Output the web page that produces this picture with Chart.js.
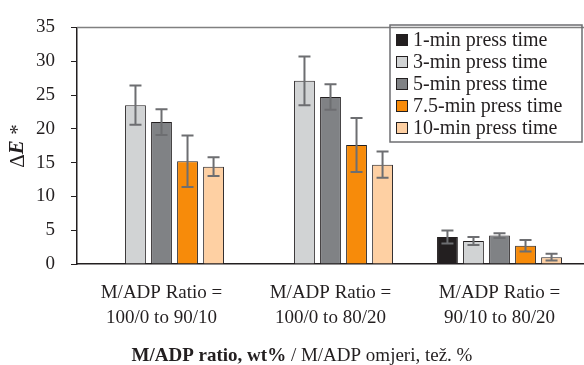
<!DOCTYPE html>
<html>
<head>
<meta charset="utf-8">
<script src="https://cdn.jsdelivr.net/npm/chart.js@4/dist/chart.umd.min.js"></script>
<style>
  body { margin: 0; background: #fff; }
  #wrap { width: 584px; height: 365px; }
</style>
</head>
<body>
<div id="wrap"><canvas id="chart" width="584" height="365"></canvas></div>
<script>
const categories = [
  ['M/ADP Ratio =', '100/0 to 90/10'],
  ['M/ADP Ratio =', '100/0 to 80/20'],
  ['M/ADP Ratio =', '90/10 to 80/20']
];
const seriesLabels = ['1-min press time', '3-min press time', '5-min press time', '7.5-min press time', '10-min press time'];
const min1 = [null, null, 4.0];
const min3 = [23.5, 27.1, 3.4];
const min5 = [21.0, 24.7, 4.2];
const min75 = [15.2, 17.6, 2.7];
const min10 = [14.4, 14.7, 1.0];
const err1 = [null, null, 0.95];
const err3 = [2.9, 3.6, 0.6];
const err5 = [1.9, 1.9, 0.35];
const err75 = [3.8, 4.0, 0.85];
const err10 = [1.4, 1.95, 0.5];
const yMin = 0, yMax = 35, yStep = 5;

const colors = ['#231f20', '#d1d3d4', '#808285', '#f78b0a', '#fed0a3'];
const values = [min1, min3, min5, min75, min10];
const errors = [err1, err3, err5, err75, err10];
const serif = '"Liberation Serif", "Times New Roman", serif';

const datasets = seriesLabels.map((label, i) => ({
  label: label,
  data: values[i],
  errors: errors[i],
  backgroundColor: colors[i],
  borderColor: '#231f20',
  borderWidth: 1,
  categoryPercentage: 0.77,
  barPercentage: 0.8
}));

// error bars drawn through the y scale
const errorBars = {
  id: 'errorBars',
  afterDatasetsDraw(chart) {
    const ctx = chart.ctx;
    const y = chart.scales.y;
    ctx.save();
    ctx.strokeStyle = '#6d6e71';
    ctx.lineWidth = 2;
    chart.data.datasets.forEach((ds, i) => {
      const meta = chart.getDatasetMeta(i);
      meta.data.forEach((bar, j) => {
        const v = ds.data[j], e = ds.errors[j];
        if (v == null || e == null) return;
        const top = y.getPixelForValue(v + e);
        const bot = y.getPixelForValue(v - e);
        ctx.beginPath();
        ctx.moveTo(bar.x, top); ctx.lineTo(bar.x, bot);
        ctx.moveTo(bar.x - 6, top); ctx.lineTo(bar.x + 6, top);
        ctx.moveTo(bar.x - 6, bot); ctx.lineTo(bar.x + 6, bot);
        ctx.stroke();
      });
    });
    ctx.restore();
  }
};

// frame line, axis titles and boxed legend
const decor = {
  id: 'decor',
  afterDraw(chart) {
    const ctx = chart.ctx;
    const a = chart.chartArea;
    ctx.save();
    ctx.strokeStyle = '#808080';
    ctx.lineWidth = 1.5;
    ctx.beginPath();
    ctx.moveTo(a.left, a.top); ctx.lineTo(chart.width, a.top);
    ctx.stroke();

    ctx.fillStyle = '#231f20';
    ctx.textBaseline = 'middle';
    // y title: ΔE *
    ctx.save();
    ctx.translate(18, 146);
    ctx.rotate(-Math.PI / 2);
    const parts = [['Δ', '21px ' + serif], ['E', 'italic bold 21px ' + serif], [' *', '21px ' + serif]];
    let w = 0;
    parts.forEach(p => { ctx.font = p[1]; w += ctx.measureText(p[0]).width; });
    let x = -w / 2;
    ctx.textAlign = 'left';
    parts.forEach(p => { ctx.font = p[1]; ctx.fillText(p[0], x, 0); x += ctx.measureText(p[0]).width; });
    ctx.restore();

    // x title
    const xp = [['M/ADP ratio, wt%', 'bold 19px ' + serif], [' / M/ADP omjeri, tež. %', '19px ' + serif]];
    w = 0;
    xp.forEach(p => { ctx.font = p[1]; w += ctx.measureText(p[0]).width; });
    x = 302 - w / 2;
    ctx.textAlign = 'left';
    xp.forEach(p => { ctx.font = p[1]; ctx.fillText(p[0], x, 356); x += ctx.measureText(p[0]).width; });

    // legend
    const lx = 390, ly = 25, lw = 192, lh = 117;
    ctx.strokeStyle = '#6d6e71';
    ctx.lineWidth = 1.5;
    ctx.strokeRect(lx, ly, lw, lh);
    ctx.font = '20px ' + serif;
    chart.data.datasets.forEach((ds, i) => {
      const cy = ly + 15 + i * 22;
      ctx.fillStyle = ds.backgroundColor;
      ctx.fillRect(lx + 6, cy - 6, 12, 12);
      ctx.strokeStyle = '#231f20';
      ctx.lineWidth = 1;
      ctx.strokeRect(lx + 6.5, cy - 5.5, 11, 11);
      ctx.fillStyle = '#231f20';
      ctx.fillText(ds.label, lx + 23, cy + 1);
    });
    ctx.restore();
  }
};

new Chart(document.getElementById('chart').getContext('2d'), {
  type: 'bar',
  data: { labels: categories, datasets: datasets },
  plugins: [errorBars, decor],
  options: {
    responsive: false,
    animation: false,
    layout: { padding: { top: 21, right: 0, left: 0, bottom: 0 } },
    plugins: { legend: { display: false }, tooltip: { enabled: false } },
    scales: {
      x: {
        grid: { display: false },
        border: { display: true, color: '#231f20', width: 1.5 },
        ticks: { color: '#231f20', padding: 9, maxRotation: 0, autoSkip: false, font: { family: serif, size: 19, lineHeight: 1.3 } },
        afterFit(scale) { scale.height = 101; }
      },
      y: {
        min: yMin, max: yMax,
        grid: { drawOnChartArea: false, drawTicks: true, tickLength: 6, color: '#231f20' },
        border: { display: true, color: '#231f20', width: 1.5 },
        ticks: { stepSize: yStep, color: '#231f20', padding: 16, font: { family: serif, size: 19 } },
        afterFit(scale) { scale.width = 77; }
      }
    }
  }
});
</script>
</body>
</html>
